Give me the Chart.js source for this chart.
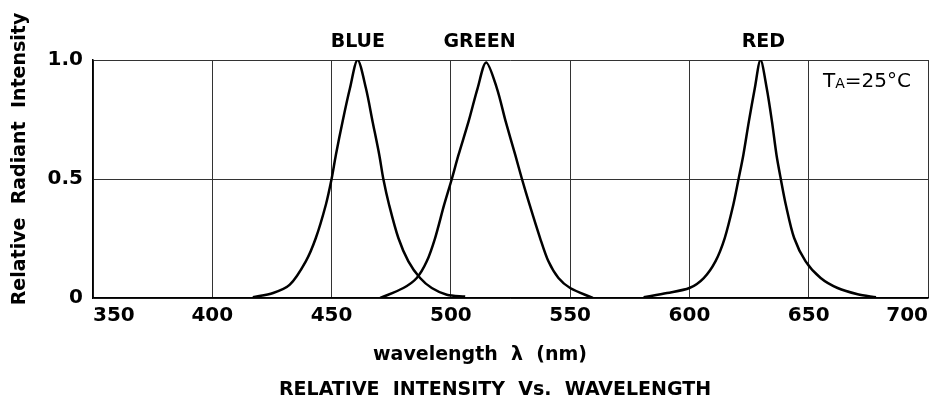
<!DOCTYPE html>
<html>
<head>
<meta charset="utf-8">
<script src="https://cdn.jsdelivr.net/npm/chart.js@4.4.1/dist/chart.umd.min.js"></script>
<style>
  html, body { margin: 0; padding: 0; background: #fff; }
</style>
</head>
<body>
<canvas id="spectrumChart" width="940" height="407"></canvas>
<script>
// --- Data (wavelength nm -> relative intensity) ---
const blueNm  = [417, 425.5, 432.5, 439.2, 443.4, 447.6, 450, 451.8, 454.6, 457.7, 460.9, 464.4, 467.2, 470, 471.7, 474.1, 478, 482.2, 487.1, 492, 498.3, 506];
const blueVal = [0.003, 0.021, 0.056, 0.154, 0.252, 0.392, 0.5, 0.601, 0.741, 0.881, 1.0, 0.881, 0.741, 0.601, 0.5, 0.392, 0.252, 0.154, 0.084, 0.042, 0.014, 0.006];

const greenNm  = [470.4, 480.1, 485.7, 489.9, 493.4, 497.2, 500.4, 503.2, 507.4, 511.2, 514.8, 519.3, 523, 527, 529.8, 533, 537.4, 540.9, 545.1, 550, 559.5];
const greenVal = [0, 0.042, 0.084, 0.154, 0.252, 0.392, 0.5, 0.601, 0.741, 0.881, 0.99, 0.881, 0.741, 0.601, 0.5, 0.392, 0.252, 0.154, 0.084, 0.042, 0];

const redNm  = [580.8, 590.6, 600, 606, 610.9, 614.8, 618.4, 620.6, 622.6, 624.9, 627.4, 629.8, 632.4, 634.6, 636.5, 638.3, 640.4, 643.9, 648.7, 655, 662.1, 670.5, 678.2];
const redVal = [0.003, 0.021, 0.042, 0.084, 0.154, 0.252, 0.392, 0.5, 0.601, 0.741, 0.881, 1.0, 0.881, 0.741, 0.601, 0.5, 0.392, 0.252, 0.154, 0.084, 0.042, 0.016, 0.003];

const curveNames = ['BLUE', 'GREEN', 'RED'];
const curveLabelNm = [461, 512, 631]; // where each name sits above the plot

const xTicks = [350, 400, 450, 500, 550, 600, 650, 700];
const yTicks = [0, 0.5, 1.0];
const yTickLabels = ['0', '0.5', '1.0'];

const FONT = "'DejaVu Sans', sans-serif";

function toPoints(xs, ys) {
    return xs.map((x, i) => ({ x: x, y: ys[i] }));
}

// --- Extra texts: axis titles, curve names, temperature note ---
const textPlugin = {
    id: 'extraText',
    afterDraw(chart) {
        const ctx = chart.ctx;
        const area = chart.chartArea;
        const xs = chart.scales.x;
        ctx.save();
        ctx.fillStyle = '#000';
        ctx.textBaseline = 'middle';
        ctx.textAlign = 'center';

        // curve names above the plot
        ctx.font = `bold 19px ${FONT}`;
        curveNames.forEach((name, i) => {
            ctx.fillText(name, xs.getPixelForValue(curveLabelNm[i]), area.top - 18);
        });

        // TA=25°C
        ctx.textAlign = 'left';
        let tx = area.right - 105;
        const ty = area.top + 22;
        ctx.font = `20px ${FONT}`;
        ctx.fillText('T', tx, ty);
        tx += ctx.measureText('T').width;
        ctx.font = `14px ${FONT}`;
        ctx.fillText('A', tx, ty + 2);
        tx += ctx.measureText('A').width;
        ctx.font = `20px ${FONT}`;
        ctx.fillText('=25°C', tx, ty);

        // x axis title and chart title
        ctx.textAlign = 'center';
        ctx.font = `bold 19px ${FONT}`;
        ctx.fillText('wavelength  λ  (nm)', 480, 355);
        ctx.fillText('RELATIVE  INTENSITY  Vs.  WAVELENGTH', 495, 390);

        // y axis title
        ctx.translate(20, 159);
        ctx.rotate(-Math.PI / 2);
        ctx.fillText('Relative  Radiant  Intensity', 0, 0);
        ctx.restore();
    }
};

function lineSet(label, xs, ys) {
    return {
        label: label,
        data: toPoints(xs, ys),
        borderColor: '#000',
        borderWidth: 2.5,
        pointRadius: 0,
        showLine: true,
        fill: false,
        tension: 0.3
    };
}

new Chart(document.getElementById('spectrumChart').getContext('2d'), {
    type: 'scatter',
    data: {
        datasets: [
            lineSet('BLUE', blueNm, blueVal),
            lineSet('GREEN', greenNm, greenVal),
            lineSet('RED', redNm, redVal)
        ]
    },
    options: {
        responsive: false,
        animation: false,
        layout: { padding: { left: 0, right: 12, top: 60, bottom: 0 } },
        plugins: {
            legend: { display: false },
            tooltip: { enabled: false }
        },
        scales: {
            x: {
                type: 'linear',
                min: 350,
                max: 700,
                afterBuildTicks: (scale) => { scale.ticks = xTicks.map(v => ({ value: v })); },
                afterFit: (scale) => { scale.height = 109; },
                grid: { color: '#333', lineWidth: 1, drawTicks: false },
                border: { color: '#000', width: 1.5 },
                ticks: {
                    color: '#000',
                    font: { family: FONT, size: 20, weight: 'bold' },
                    padding: 6,
                    align: 'inner',
                    maxRotation: 0,
                    callback: (v) => String(v)
                }
            },
            y: {
                min: 0,
                max: 1,
                afterBuildTicks: (scale) => { scale.ticks = yTicks.map(v => ({ value: v })); },
                afterFit: (scale) => { scale.width = 93; },
                grid: { color: '#333', lineWidth: 1, drawTicks: false },
                border: { color: '#000', width: 1.5 },
                ticks: {
                    color: '#000',
                    font: { family: FONT, size: 20, weight: 'bold' },
                    padding: 10,
                    callback: (v) => yTickLabels[yTicks.indexOf(v)]
                }
            }
        }
    },
    plugins: [textPlugin]
});
</script>
</body>
</html>
